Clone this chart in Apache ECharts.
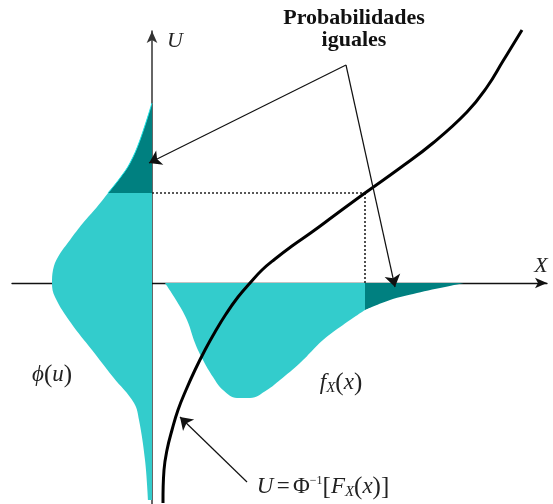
<!DOCTYPE html>
<html>
<head>
<meta charset="utf-8">
<script src="https://cdn.jsdelivr.net/npm/echarts@6/dist/echarts.min.js"></script>
<style>
  html, body { margin: 0; padding: 0; background: #fff; }
  #chart { width: 553px; height: 504px; }
</style>
</head>
<body>
<div id="chart"></div>
<script>
// Transformation curve U = Φ^-1[F_X(x)] as (x, u) pairs
const transformCurve = [
  [0.55, -11.0], [0.6, -9.35], [0.75, -8.35], [1.0, -7.35], [1.3, -6.35], [1.7, -5.35],
  [2.15, -4.35], [2.65, -3.35], [3.15, -2.45], [3.7, -1.55], [4.3, -0.7], [4.9, 0],
  [5.5, 0.65], [6.15, 1.2], [7.0, 1.85], [8.0, 2.55], [9.15, 3.4], [10.65, 4.5],
  [12.4, 5.75], [14.05, 7.0], [15.75, 8.55], [16.75, 9.8], [17.55, 11.1], [18.5, 12.65]
];

// Density f_X(x), drawn hanging below the X axis: (x, -f)
const fxBody = [
  [0.65, 0], [1.2, -0.85], [1.75, -1.85], [2.15, -3.0], [2.55, -3.85], [3.05, -4.7],
  [3.55, -5.35], [4.25, -5.75], [4.9, -5.75], [5.75, -5.35], [6.4, -4.85], [7.4, -4.0],
  [8.55, -2.85], [9.55, -2.1], [10.65, -1.35]
];
const fxTail = [[10.65, -1.35], [11.9, -0.85], [13.25, -0.5], [15.6, 0]];

// Standard normal density ϕ(u), drawn to the left of the U axis: (-ϕ, u)
const phiBody = [
  [-0.2, -10.85], [-0.35, -8.85], [-0.65, -6.85], [-0.9, -6.0], [-1.95, -4.7],
  [-3.0, -3.35], [-4.05, -2.0], [-4.85, -0.7], [-5.0, 0], [-4.95, 0.65], [-4.7, 1.3],
  [-4.1, 2.15], [-3.45, 3.0], [-2.75, 3.8], [-2.2, 4.5]
];
const phiTail = [[-2.2, 4.5], [-1.6, 5.25], [-1.1, 6.0], [-0.6, 7.15], [0, 9.0]];

// Matching level: u* on the U axis and x* on the X axis
const uLevel = 4.5;
const xLevel = 10.65;

// Pointer arrows: [from, to]
const labelApex = [9.7, 10.9];
const pointerArrows = [
  [labelApex, [-0.15, 6.0]],
  [labelApex, [12.15, -0.2]],
  [[4.75, -9.95], [1.4, -6.7]]
];

const LIGHT = '#33CCCC';
const DARK = '#008080';
const SERIF = '"Liberation Serif", "Times New Roman", serif';

const chart = echarts.init(document.getElementById('chart'), null, { renderer: 'canvas' });

const hiddenAxisParts = {
  axisTick: { show: false },
  axisLabel: { show: false },
  splitLine: { show: false }
};

const option = {
  animation: false,
  backgroundColor: '#fff',
  grid: { left: 12, top: 31, width: 535, height: 473 },
  xAxis: {
    type: 'value', min: -7, max: 19.75,
    axisLine: {
      show: true, onZero: true, onZeroAxisIndex: 0,
      symbol: ['none', 'arrow'], symbolSize: [8, 12],
      lineStyle: { color: '#111', width: 1.3 }
    },
    ...hiddenAxisParts
  },
  yAxis: [
    {
      type: 'value', min: -11.05, max: 12.6,
      axisLine: {
        show: true, onZero: true,
        symbol: ['none', 'arrow'], symbolSize: [8, 12],
        lineStyle: { color: '#333', width: 1.5 }
      },
      ...hiddenAxisParts
    },
    {
      // second vertical scale with the same extent; being a time scale it is
      // the base axis, so areas on it fill sideways towards x = 0
      type: 'time', min: -11.05, max: 12.6, show: false,
      ...hiddenAxisParts
    }
  ],
  series: [
    {
      type: 'line', name: 'phi', yAxisIndex: 1, data: phiBody, smooth: 0.4,
      showSymbol: false, symbol: 'none', z: 1,
      lineStyle: { width: 0 }, areaStyle: { color: LIGHT, opacity: 1 }
    },
    {
      type: 'line', name: 'phiTail', yAxisIndex: 1, data: phiTail, smooth: 0.4,
      showSymbol: false, symbol: 'none', z: 1,
      lineStyle: { width: 1, color: '#1ee6e6' }, areaStyle: { color: DARK, opacity: 1 }
    },
    {
      type: 'line', name: 'fx', data: fxBody, smooth: 0.4,
      showSymbol: false, symbol: 'none', z: 1,
      lineStyle: { width: 0 }, areaStyle: { color: LIGHT, opacity: 1 }
    },
    {
      type: 'line', name: 'fxTail', data: fxTail, smooth: 0.4,
      showSymbol: false, symbol: 'none', z: 1,
      lineStyle: { width: 0 }, areaStyle: { color: DARK, opacity: 1 }
    },
    {
      type: 'line', name: 'guideH', data: [[0, uLevel], [xLevel, uLevel]],
      showSymbol: false, symbol: 'none', z: 2,
      lineStyle: { color: '#222', width: 1.6, type: [2, 2] }
    },
    {
      type: 'line', name: 'guideV', data: [[xLevel, uLevel], [xLevel, 0]],
      showSymbol: false, symbol: 'none', z: 2,
      lineStyle: { color: '#222', width: 1.6, type: [2, 2] }
    },
    {
      // the transformation curve as one unconstrained smooth polyline
      type: 'custom', name: 'transform', coordinateSystem: 'cartesian2d',
      data: [[transformCurve[0][0], transformCurve[0][1]]], clip: false, z: 4,
      renderItem: (params, api) => ({
        type: 'polyline',
        shape: { points: transformCurve.map(p => api.coord(p)), smooth: 0.45 },
        style: { stroke: '#000', lineWidth: 3, fill: null, lineJoin: 'round' }
      })
    },
    {
      type: 'lines', coordinateSystem: 'cartesian2d', z: 5,
      symbol: ['none', 'arrow'], symbolSize: [7, 12],
      lineStyle: { color: '#111', width: 1.2, opacity: 1 },
      data: pointerArrows.map(p => ({ coords: p }))
    }
  ],
  graphic: [
    {
      type: 'text', x: 354, y: 18, z: 10,
      style: { text: 'Probabilidades', font: 'bold 22px ' + SERIF, fill: '#111',
               align: 'center', verticalAlign: 'middle' }
    },
    {
      type: 'text', x: 354, y: 40.5, z: 10,
      style: { text: 'iguales', font: 'bold 22px ' + SERIF, fill: '#111',
               align: 'center', verticalAlign: 'middle' }
    },
    {
      type: 'text', x: 175, y: 41, z: 10,
      style: { text: 'U', font: 'italic 22px ' + SERIF, fill: '#222',
               align: 'center', verticalAlign: 'middle' }
    },
    {
      type: 'text', x: 541, y: 266, z: 10,
      style: { text: 'X', font: 'italic 22px ' + SERIF, fill: '#222',
               align: 'center', verticalAlign: 'middle' }
    },
    {
      type: 'text', x: 52, y: 375, z: 10,
      style: {
        text: '{i|ϕ}{p|(}{i|u}{p|)}', align: 'center', verticalAlign: 'middle',
        rich: {
          i: { font: 'italic 23px ' + SERIF, fill: '#222', verticalAlign: 'middle' },
          p: { font: '25px ' + SERIF, fill: '#222', verticalAlign: 'middle' }
        }
      }
    },
    {
      type: 'text', x: 341, y: 383, z: 10,
      style: {
        text: '{i|f}{s|X}{p|(}{i|x}{p|)}', align: 'center', verticalAlign: 'middle',
        rich: {
          i: { font: 'italic 23px ' + SERIF, fill: '#222', verticalAlign: 'middle' },
          s: { font: 'italic 15px ' + SERIF, fill: '#222', verticalAlign: 'bottom', lineHeight: 14 },
          p: { font: '25px ' + SERIF, fill: '#222', verticalAlign: 'middle' }
        }
      }
    },
    {
      type: 'text', x: 323, y: 487, z: 10,
      style: {
        text: '{i|U} {n|=} {b|Φ}{u|−1}{p|[}{i|F}{s|X}{p|(}{i|x}{p|)]}',
        align: 'center', verticalAlign: 'middle',
        rich: {
          i: { font: 'italic 23px ' + SERIF, fill: '#222', verticalAlign: 'middle' },
          n: { font: '23px ' + SERIF, fill: '#222', verticalAlign: 'middle' },
          b: { font: '23px ' + SERIF, fill: '#222', verticalAlign: 'middle' },
          u: { font: '12px ' + SERIF, fill: '#222', verticalAlign: 'top', lineHeight: 12 },
          s: { font: 'italic 15px ' + SERIF, fill: '#222', verticalAlign: 'bottom', lineHeight: 14 },
          p: { font: '25px ' + SERIF, fill: '#222', verticalAlign: 'middle' }
        }
      }
    }
  ]
};

chart.setOption(option);
</script>
</body>
</html>
